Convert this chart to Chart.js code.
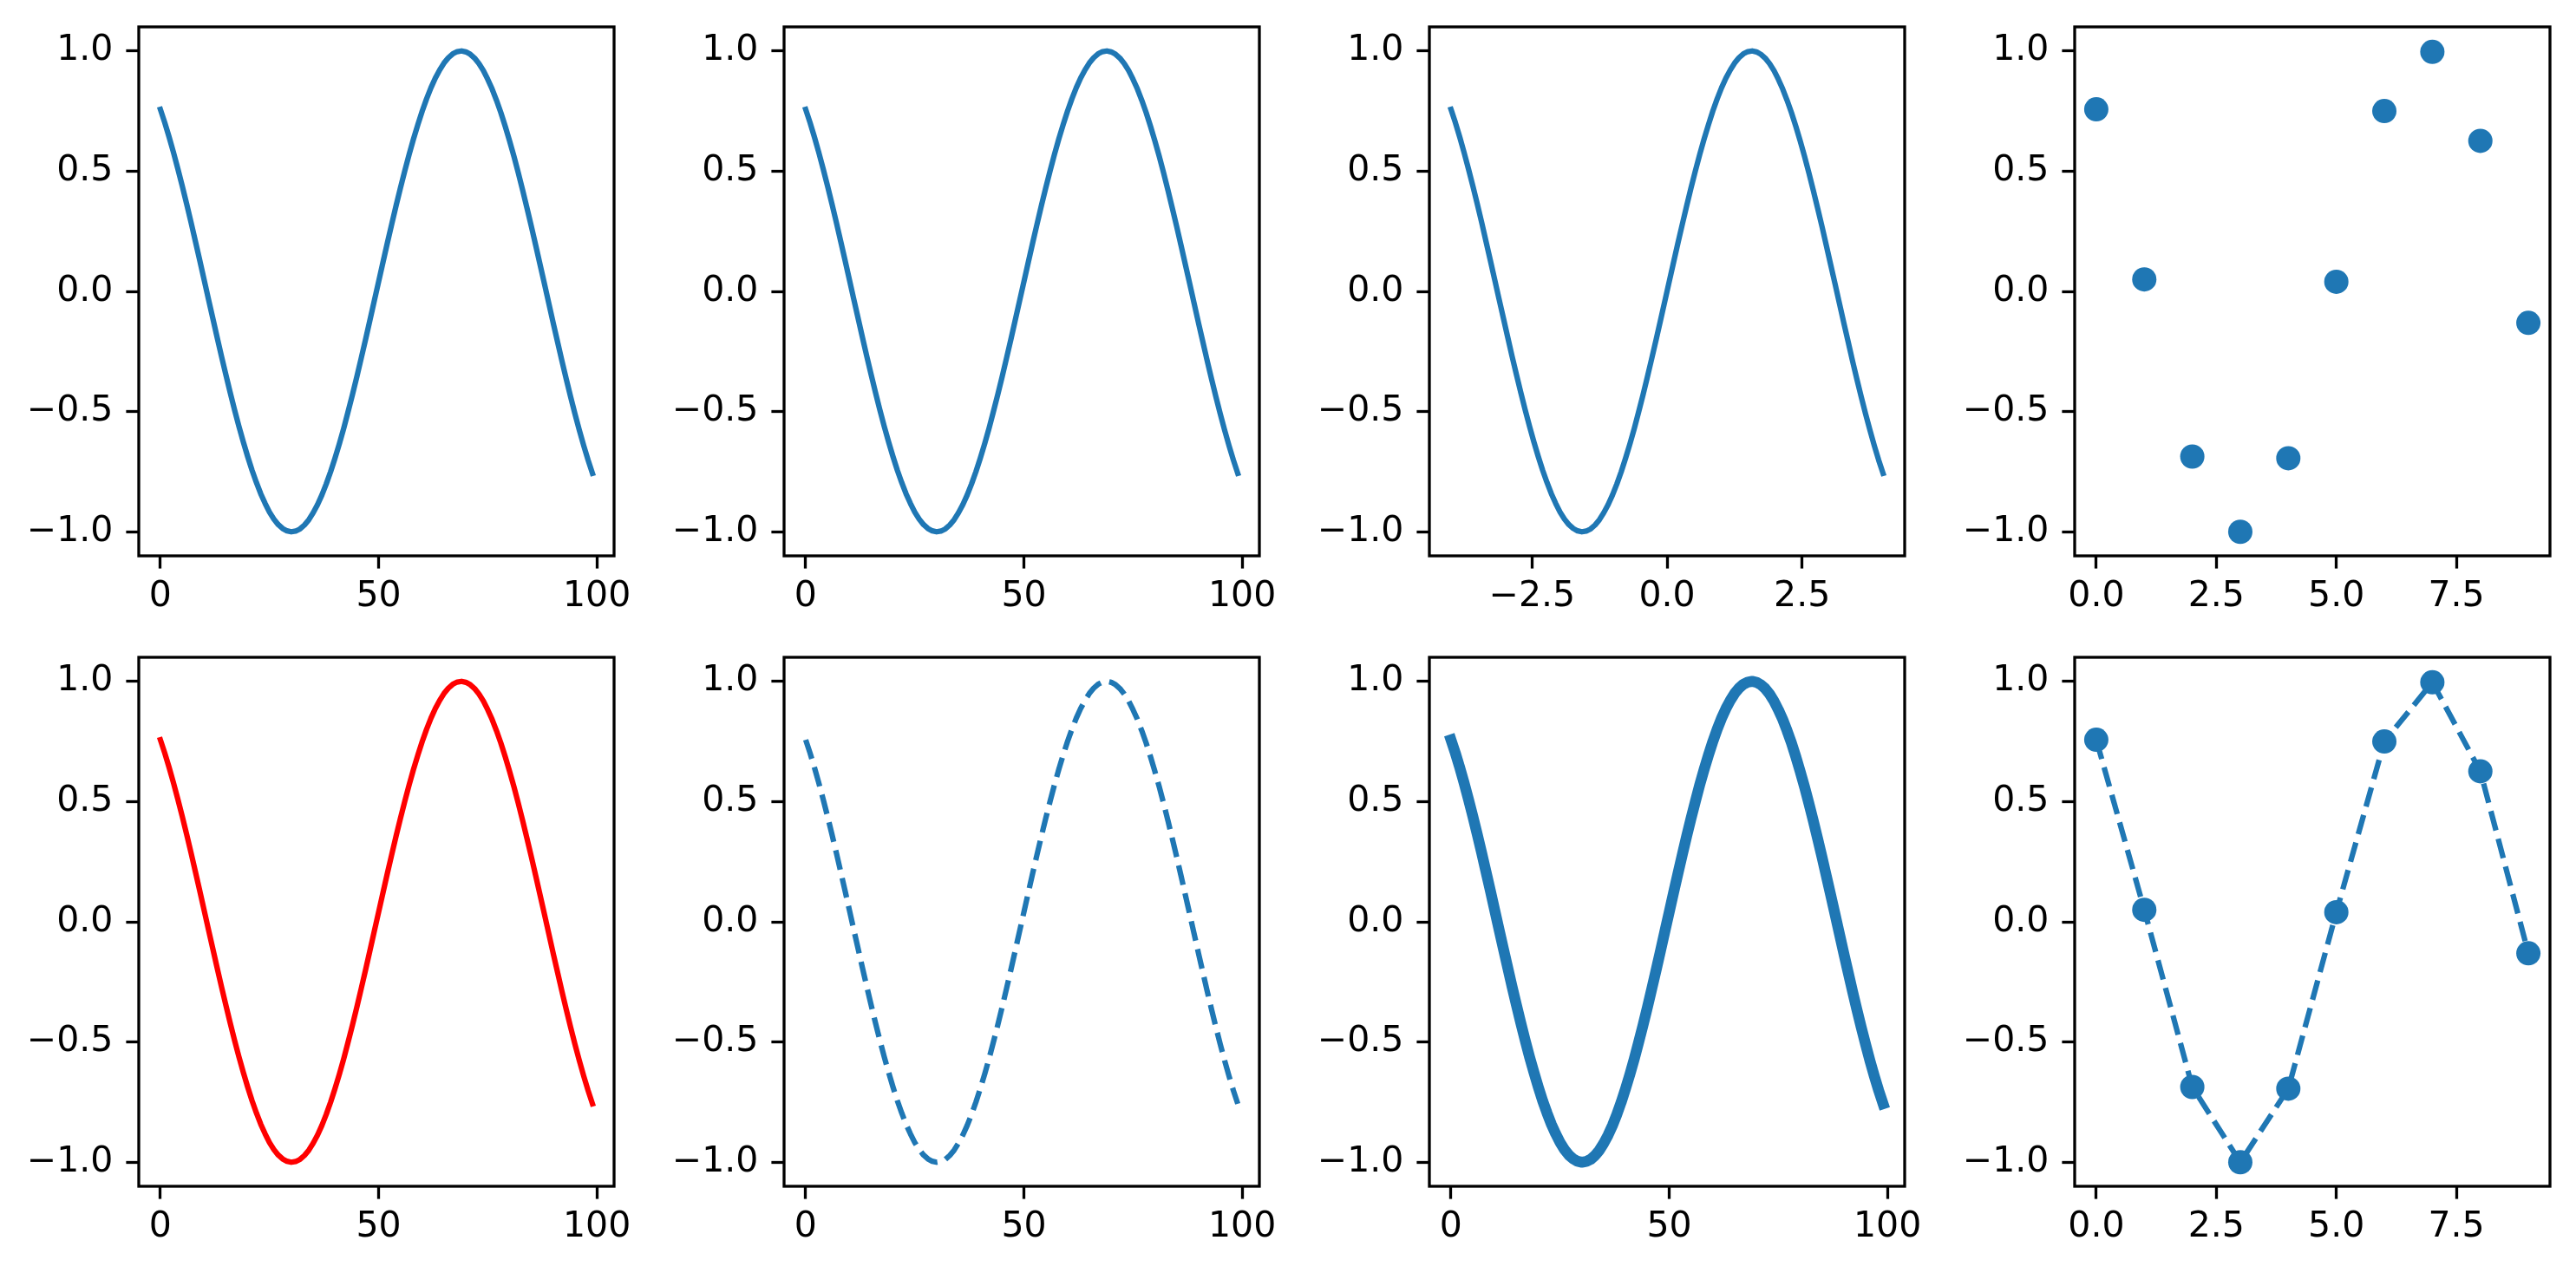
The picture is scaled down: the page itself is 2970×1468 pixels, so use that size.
<!DOCTYPE html>
<html>
<head>
<meta charset="utf-8">
<script src="https://cdn.jsdelivr.net/npm/chart.js@4"></script>
<style>
  html, body { margin: 0; padding: 0; background: #ffffff; }
  body { width: 2970px; height: 1468px; position: relative; overflow: hidden; }
  .panel { position: absolute; }
</style>
</head>
<body>
<script>
// ---------------- DATA ----------------
const sampleIndex = [0,1,2,3,4,5,6,7,8,9,10,11,12,13,14,15,16,17,18,19,20,21,22,23,24,25,26,27,28,29,30,31,32,33,34,35,36,37,38,39,40,41,42,43,44,45,46,47,48,49,50,51,52,53,54,55,56,57,58,59,60,61,62,63,64,65,66,67,68,69,70,71,72,73,74,75,76,77,78,79,80,81,82,83,84,85,86,87,88,89,90,91,92,93,94,95,96,97,98,99];
const xValues = [-4.000,-3.919,-3.838,-3.758,-3.677,-3.596,-3.515,-3.434,-3.354,-3.273,-3.192,-3.111,-3.030,-2.949,-2.869,-2.788,-2.707,-2.626,-2.545,-2.465,-2.384,-2.303,-2.222,-2.141,-2.061,-1.980,-1.899,-1.818,-1.737,-1.657,-1.576,-1.495,-1.414,-1.333,-1.253,-1.172,-1.091,-1.010,-0.929,-0.848,-0.768,-0.687,-0.606,-0.525,-0.444,-0.364,-0.283,-0.202,-0.121,-0.040,0.040,0.121,0.202,0.283,0.364,0.444,0.525,0.606,0.687,0.768,0.848,0.929,1.010,1.091,1.172,1.253,1.333,1.414,1.495,1.576,1.657,1.737,1.818,1.899,1.980,2.061,2.141,2.222,2.303,2.384,2.465,2.545,2.626,2.707,2.788,2.869,2.949,3.030,3.111,3.192,3.273,3.354,3.434,3.515,3.596,3.677,3.758,3.838,3.919,4.000];
const waveY = [0.757,0.702,0.642,0.578,0.510,0.439,0.365,0.289,0.210,0.131,0.050,-0.031,-0.111,-0.191,-0.270,-0.346,-0.421,-0.493,-0.562,-0.626,-0.687,-0.744,-0.795,-0.842,-0.882,-0.918,-0.947,-0.970,-0.986,-0.996,-1.000,-0.997,-0.988,-0.972,-0.950,-0.921,-0.887,-0.847,-0.801,-0.750,-0.694,-0.634,-0.570,-0.501,-0.430,-0.356,-0.279,-0.201,-0.121,-0.040,0.040,0.121,0.201,0.279,0.356,0.430,0.501,0.570,0.634,0.694,0.750,0.801,0.847,0.887,0.921,0.950,0.972,0.988,0.997,1.000,0.996,0.986,0.970,0.947,0.918,0.882,0.842,0.795,0.744,0.687,0.626,0.562,0.493,0.421,0.346,0.270,0.191,0.111,0.031,-0.050,-0.131,-0.210,-0.289,-0.365,-0.439,-0.510,-0.578,-0.642,-0.702,-0.757];
const pointX = [0,1,2,3,4,5,6,7,8,9];
const pointY = [0.757,0.050,-0.687,-1.000,-0.694,0.040,0.750,0.996,0.626,-0.131];

const yTicks = [-1.0,-0.5,0.0,0.5,1.0];
const yTickLabels = ['\u22121.0','\u22120.5','0.0','0.5','1.0'];
const indexTicks = [0,50,100];
const indexTickLabels = ['0','50','100'];
const valueTicks = [-2.5,0.0,2.5];
const valueTickLabels = ['\u22122.5','0.0','2.5'];
const pointTicks = [0,2.5,5.0,7.5];
const pointTickLabels = ['0.0','2.5','5.0','7.5'];

// ---------------- LAYOUT / STYLE ----------------
const BLUE = '#1f77b4';
const colLeft = [160, 903.5, 1648, 2392];
const rowTop = [31, 758];
const AX_W = 548, AX_H = 610;
const PAD_L = 150, PAD_T = 30, PAD_R = 45, PAD_B = 100;
const FONT = 41, TICK_LEN = 14.6, TICK_W = 3.3, SPINE_W = 3.3;

const pts = (xs, ys) => xs.map((x, i) => ({x: x, y: ys[i]}));

const panels = [
  {r:0,c:0, xs:sampleIndex, ys:waveY, xr:[-4.95,103.95], xt:indexTicks, xl:indexTickLabels, color:BLUE, lw:6.25, dash:[], marker:false, line:true},
  {r:0,c:1, xs:sampleIndex, ys:waveY, xr:[-4.95,103.95], xt:indexTicks, xl:indexTickLabels, color:BLUE, lw:6.25, dash:[], marker:false, line:true},
  {r:0,c:2, xs:xValues, ys:waveY, xr:[-4.4,4.4], xt:valueTicks, xl:valueTickLabels, color:BLUE, lw:6.25, dash:[], marker:false, line:true},
  {r:0,c:3, xs:pointX, ys:pointY, xr:[-0.45,9.45], xt:pointTicks, xl:pointTickLabels, color:BLUE, lw:0, dash:[], marker:true, line:false},
  {r:1,c:0, xs:sampleIndex, ys:waveY, xr:[-4.95,103.95], xt:indexTicks, xl:indexTickLabels, color:'#ff0000', lw:6.25, dash:[], marker:false, line:true},
  {r:1,c:1, xs:sampleIndex, ys:waveY, xr:[-4.95,103.95], xt:indexTicks, xl:indexTickLabels, color:BLUE, lw:6.25, dash:[23,10], marker:false, line:true},
  {r:1,c:2, xs:sampleIndex, ys:waveY, xr:[-4.95,103.95], xt:indexTicks, xl:indexTickLabels, color:BLUE, lw:12.5, dash:[], marker:false, line:true},
  {r:1,c:3, xs:pointX, ys:pointY, xr:[-0.45,9.45], xt:pointTicks, xl:pointTickLabels, color:BLUE, lw:6.25, dash:[23,10], marker:true, line:true}
];

Chart.defaults.font.family = "'DejaVu Sans'";
Chart.defaults.font.size = FONT;
Chart.defaults.color = '#000000';

const framePlugin = {
  id: 'frame',
  afterDatasetsDraw(chart) {
    const a = chart.chartArea, ctx = chart.ctx;
    ctx.save();
    ctx.strokeStyle = '#000000';
    ctx.lineWidth = SPINE_W;
    ctx.lineJoin = 'miter';
    ctx.strokeRect(a.left, a.top, a.right - a.left, a.bottom - a.top);
    ctx.restore();
  }
};

panels.forEach((p, k) => {
  const W = PAD_L + AX_W + PAD_R, H = PAD_T + AX_H + PAD_B;
  const div = document.createElement('div');
  div.className = 'panel';
  div.style.left = (colLeft[p.c] - PAD_L) + 'px';
  div.style.top = (rowTop[p.r] - PAD_T) + 'px';
  div.style.width = W + 'px';
  div.style.height = H + 'px';
  const cv = document.createElement('canvas');
  cv.width = W; cv.height = H;
  cv.style.width = W + 'px'; cv.style.height = H + 'px';
  div.appendChild(cv);
  document.body.appendChild(div);

  const xt = p.xt, xl = p.xl;
  new Chart(cv.getContext('2d'), {
    type: 'line',
    data: {
      datasets: [{
        data: pts(p.xs, p.ys),
        borderColor: p.color,
        backgroundColor: p.color,
        borderWidth: p.lw,
        borderDash: p.dash,
        borderCapStyle: p.dash.length ? 'butt' : 'square',
        borderJoinStyle: 'round',
        showLine: p.line,
        tension: 0,
        fill: false,
        pointRadius: p.marker ? 14 : 0,
        pointHoverRadius: p.marker ? 14 : 0,
        pointBorderWidth: 0,
        pointBackgroundColor: p.color,
        pointBorderColor: p.color,
        clip: false
      }]
    },
    options: {
      responsive: false,
      animation: false,
      devicePixelRatio: 1,
      events: [],
      layout: { padding: { top: PAD_T, right: PAD_R, left: 0, bottom: 0 } },
      plugins: { legend: { display: false }, tooltip: { enabled: false } },
      scales: {
        x: {
          type: 'linear',
          min: p.xr[0], max: p.xr[1],
          afterBuildTicks: (s) => { s.ticks = xt.map(v => ({value: v})); },
          afterFit: (s) => { s.height = PAD_B; s.paddingLeft = 0; s.paddingRight = 0; },
          ticks: {
            autoSkip: false, maxRotation: 0, minRotation: 0, padding: 8,
            color: '#000000',
            callback: (v) => { const i = xt.indexOf(v); return i >= 0 ? xl[i] : ''; }
          },
          grid: { drawOnChartArea: false, drawTicks: true, tickLength: TICK_LEN, tickWidth: TICK_W, tickColor: '#000000' },
          border: { display: false }
        },
        y: {
          type: 'linear',
          min: -1.1, max: 1.1,
          afterBuildTicks: (s) => { s.ticks = yTicks.map(v => ({value: v})); },
          afterFit: (s) => { s.width = PAD_L; s.paddingTop = 0; s.paddingBottom = 0; },
          ticks: {
            autoSkip: false, padding: 15,
            color: '#000000',
            callback: (v) => { const i = yTicks.indexOf(v); return i >= 0 ? yTickLabels[i] : ''; }
          },
          grid: { drawOnChartArea: false, drawTicks: true, tickLength: TICK_LEN, tickWidth: TICK_W, tickColor: '#000000' },
          border: { display: false }
        }
      }
    },
    plugins: [framePlugin]
  });
});
</script>
</body>
</html>
